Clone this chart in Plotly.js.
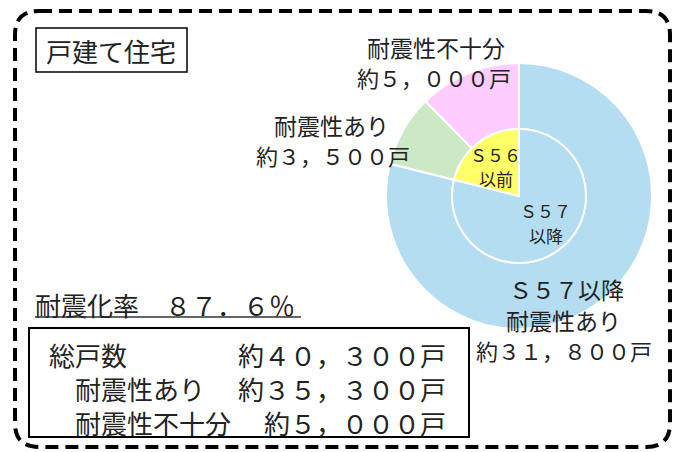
<!DOCTYPE html>
<html>
<head>
<meta charset="utf-8">
<script src="https://cdn.plot.ly/plotly-3.0.1.min.js"></script>
<style>html,body{margin:0;padding:0;background:#fff;}#chart{width:676px;height:452px;}</style>
</head>
<body>
<div id="chart"></div>
<script>
// ---- data ----
const outerLabels = ['耐震性不十分', '耐震性あり', 'S57以降耐震性あり'];
const outerValues = [5000, 3500, 31800];
const outerColors = ['#ffccff', '#cde8c5', '#b4ddf2'];
const innerLabels = ['S56以前', 'S57以降'];
const innerValues = [8500, 31800];
const innerColors = ['#ffff66', '#b4ddf2'];
const titleText = '戸建て住宅';
const rateText = '耐震化率　８７．６％';
const rowLabels = ['総戸数', '　耐震性あり', '　耐震性不十分'];
const rowValues = ['約４０，３００戸', '約３５，３００戸', '約５，０００戸'];
const sliceLabels = [
  ['耐震性不十分', '約５，０００戸'],
  ['耐震性あり', '約３，５００戸'],
  ['Ｓ５７以降', '耐震性あり', '約３１，８００戸'],
  ['Ｓ５６', '以前'],
  ['Ｓ５７', '以降']
];

const W = 676, H = 452;
const F = '"Noto Sans CJK JP", "Noto Sans", sans-serif';
const TC = '#222';

// pie geometry (pixels)
const cx = 519, cy = 196, R = 133, r = 67;
function dom(c, rad, total, flip) {
  if (flip) return [(total - c - rad) / total, (total - c + rad) / total];
  return [(c - rad) / total, (c + rad) / total];
}
const rev = a => a.slice().reverse();

const traces = [
  { type: 'scatter', x: [0, W], y: [0, H], mode: 'markers', marker: {opacity: 0}, hoverinfo: 'skip', showlegend: false },
  {
    type: 'pie', labels: rev(outerLabels), values: rev(outerValues), sort: false,
    direction: 'clockwise', rotation: 0, hole: r / R,
    marker: {colors: rev(outerColors), line: {color: '#ffffff', width: 2}},
    textinfo: 'none', hoverinfo: 'none', showlegend: false,
    domain: {x: dom(cx, R, W), y: dom(cy, R, H, true)}
  },
  {
    type: 'pie', labels: rev(innerLabels), values: rev(innerValues), sort: false,
    direction: 'clockwise', rotation: 0,
    marker: {colors: rev(innerColors), line: {color: '#ffffff', width: 2}},
    textinfo: 'none', hoverinfo: 'none', showlegend: false,
    domain: {x: dom(cx, r, W), y: dom(cy, r, H, true)}
  }
];

function ann(text, x, y, size, xanchor, align) {
  return {text: text, x: x, y: y, xref: 'x', yref: 'y', showarrow: false,
    xanchor: xanchor || 'center', yanchor: 'middle', align: align || 'center',
    borderpad: 0, font: {family: F, size: size, color: TC}};
}

const annotations = [
  ann(titleText, 45, 50, 26, 'left'),
  ann(rateText, 34, 304, 26, 'left'),
  ann(rowLabels.join('<br>'), 48, 388, 26, 'left', 'left'),
  ann(rowValues.join('<br>'), 447, 388, 26, 'right', 'right'),
  ann(sliceLabels[0][0], 436, 47, 23),
  ann(sliceLabels[0][1], 434, 77, 22),
  ann(sliceLabels[1][0], 331, 125, 23),
  ann(sliceLabels[1][1], 333, 155, 22),
  ann(sliceLabels[2][0], 566, 289, 23),
  ann(sliceLabels[2][1], 563, 320, 23),
  ann(sliceLabels[2][2], 564, 350, 22),
  ann(sliceLabels[3][0], 495, 154, 17),
  ann(sliceLabels[3][1], 496, 178, 17),
  ann(sliceLabels[4][0], 545, 210, 17),
  ann(sliceLabels[4][1], 546, 235, 17)
];

const bx0 = 15, by0 = 11, bx1 = 670, by1 = 447, rr = 24;
const borderPath = `M ${bx0 + rr} ${by0} L ${bx1 - rr} ${by0} Q ${bx1} ${by0} ${bx1} ${by0 + rr} ` +
  `L ${bx1} ${by1 - rr} Q ${bx1} ${by1} ${bx1 - rr} ${by1} L ${bx0 + rr} ${by1} ` +
  `Q ${bx0} ${by1} ${bx0} ${by1 - rr} L ${bx0} ${by0 + rr} Q ${bx0} ${by0} ${bx0 + rr} ${by0} Z`;

const shapes = [
  {type: 'path', path: borderPath, xref: 'x', yref: 'y', line: {color: '#000', width: 4, dash: '13px,7px'}},
  {type: 'rect', x0: 36, x1: 187, y0: 28, y1: 72, xref: 'x', yref: 'y', line: {color: '#000', width: 1.5}},
  {type: 'rect', x0: 29, x1: 469, y0: 328, y1: 437, xref: 'x', yref: 'y', line: {color: '#000', width: 2}},
  {type: 'line', x0: 35, x1: 301, y0: 317, y1: 317, xref: 'x', yref: 'y', line: {color: '#333', width: 1.5}}
];

const layout = {
  width: W, height: H,
  margin: {l: 0, r: 0, t: 0, b: 0, pad: 0},
  paper_bgcolor: '#ffffff', plot_bgcolor: 'rgba(0,0,0,0)',
  xaxis: {range: [0, W], visible: false, fixedrange: true},
  yaxis: {range: [H, 0], visible: false, fixedrange: true},
  showlegend: false,
  annotations: annotations,
  shapes: shapes
};

Plotly.newPlot('chart', traces, layout, {staticPlot: true, displayModeBar: false});
</script>
</body>
</html>
